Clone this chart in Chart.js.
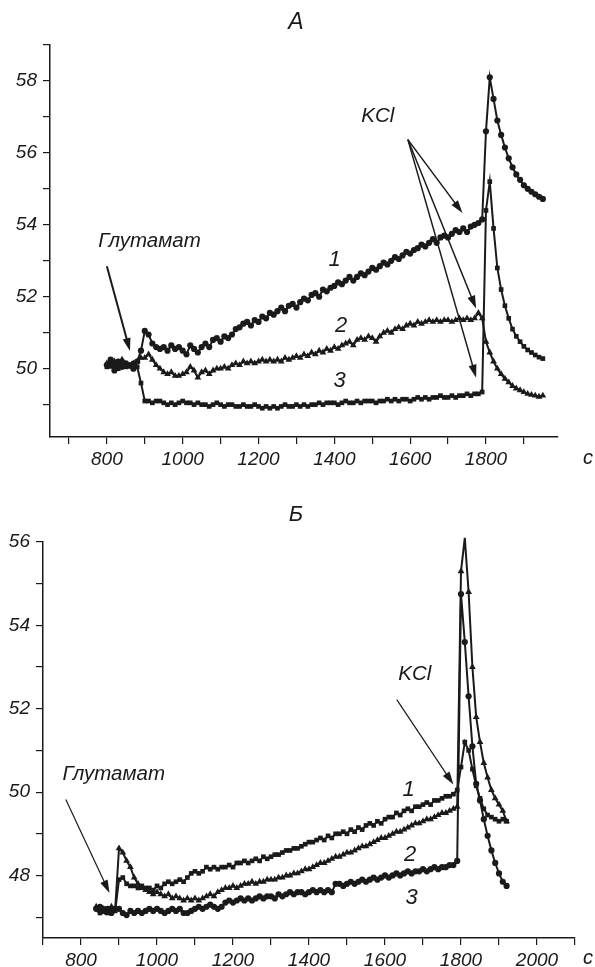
<!DOCTYPE html>
<html>
<head>
<meta charset="utf-8">
<script src="https://cdn.jsdelivr.net/npm/chart.js@4/dist/chart.umd.min.js"></script>
<style>
  body { margin: 0; background: #fff; }
  #wrapA { position: absolute; left: 0; top: 0; width: 595px; height: 480px; }
  #wrapB { position: absolute; left: 0; top: 480px; width: 595px; height: 487px; }
</style>
</head>
<body>
<div id="wrapA"><canvas id="chartA" width="595" height="480"></canvas></div>
<div id="wrapB"><canvas id="chartB" width="595" height="487"></canvas></div>
<script>
// Panel A: sampling every 10 s from 800 to 1950 s
const timesA = Array.from({ length: 116 }, (_, i) => 800 + 10 * i);
// curve 1 (circles)
const a1 = [
  50.1, 50.25, 49.95, 50.2, 50.05, 50.15, 50.1, 50.0, 50.2, 50.5,
  51.05, 50.95, 50.7, 50.6, 50.55, 50.6, 50.5, 50.65, 50.55, 50.6,
  50.5, 50.4, 50.65, 50.55, 50.45, 50.6, 50.7, 50.6, 50.8, 50.85,
  50.75, 50.9, 50.85, 50.95, 51.1, 51.15, 51.25, 51.3, 51.2, 51.35,
  51.3, 51.45, 51.4, 51.55, 51.5, 51.6, 51.7, 51.6, 51.75, 51.8,
  51.7, 51.85, 51.95, 51.9, 52.05, 52.1, 52.0, 52.2, 52.15, 52.25,
  52.3, 52.4, 52.35, 52.45, 52.55, 52.45, 52.55, 52.65, 52.6, 52.7,
  52.8, 52.75, 52.85, 52.95, 52.9, 53.0, 53.1, 53.05, 53.15, 53.25,
  53.2, 53.3, 53.35, 53.45, 53.4, 53.5, 53.6, 53.5, 53.65, 53.7,
  53.65, 53.75, 53.85, 53.8, 53.9, 53.8, 53.95, 54.0, 54.05, 54.15,
  56.6, 58.1, 57.5, 56.9, 56.5, 56.15, 55.85, 55.6, 55.4, 55.25,
  55.1, 55.0, 54.92, 54.85, 54.78, 54.72
];
// curve 2 (triangles)
const a2 = [
  50.15, 50.05, 50.2, 50.1, 50.25, 50.1, 50.05, 50.15, 50.2, 50.3,
  50.3, 50.4, 50.25, 50.1, 50.0, 49.9, 49.85, 49.9, 49.8, 49.8,
  49.85, 49.9, 50.05, 49.95, 49.75, 49.9, 49.95, 49.85, 49.95, 50.0,
  50.0, 50.05, 50.0, 50.1, 50.15, 50.1, 50.2, 50.15, 50.2, 50.15,
  50.2, 50.25, 50.2, 50.25, 50.2, 50.25, 50.2, 50.3, 50.25, 50.3,
  50.35, 50.3, 50.4, 50.35, 50.45, 50.4, 50.5, 50.45, 50.55, 50.5,
  50.6, 50.55, 50.65, 50.7, 50.75, 50.65, 50.8, 50.85, 50.8, 50.9,
  50.85, 50.75, 50.9, 51.0, 51.05, 51.0, 51.1, 51.15, 51.1, 51.2,
  51.25, 51.2, 51.3, 51.25, 51.3, 51.35, 51.3, 51.35, 51.3, 51.35,
  51.35, 51.3, 51.35, 51.4, 51.35, 51.4, 51.35, 51.4, 51.55, 51.4,
  50.75, 50.45, 50.2, 50.0, 49.85, 49.72, 49.62, 49.52, 49.45, 49.4,
  49.35, 49.3, 49.27, 49.25, 49.22, 49.25
];
// curve 3 (squares)
const a3 = [
  50.05, 50.15, 50.1, 50.0, 50.2, 50.05, 50.1, 50.15, 50.05, 49.6,
  49.1, 49.1, 49.05, 49.1, 49.1, 49.05, 49.0, 49.05, 49.0, 49.05,
  49.1, 49.05, 49.05, 49.0, 49.05, 49.0, 49.0, 48.95, 49.0, 49.05,
  49.0, 48.95, 49.0, 49.0, 48.95, 48.95, 49.0, 48.95, 48.95, 49.0,
  48.95, 48.9, 48.95, 48.9, 48.95, 48.9, 48.95, 49.0, 48.95, 48.95,
  49.0, 48.95, 49.0, 48.95, 49.0, 49.0, 49.05, 49.0, 49.05, 49.05,
  49.05, 49.0, 49.05, 49.1, 49.05, 49.05, 49.1, 49.05, 49.1, 49.1,
  49.1, 49.05, 49.1, 49.1, 49.15, 49.1, 49.15, 49.1, 49.15, 49.15,
  49.1, 49.15, 49.2, 49.15, 49.2, 49.15, 49.2, 49.2, 49.25, 49.2,
  49.2, 49.25, 49.2, 49.25, 49.25, 49.3, 49.25, 49.3, 49.3, 49.35,
  54.4, 55.2, 53.9, 52.8, 52.2, 51.75, 51.4, 51.1, 50.9, 50.75,
  50.62, 50.52, 50.45, 50.38, 50.32, 50.28
];

// Panel Б: sampling every 10 s from 840 to 1920 s
const timesB = Array.from({ length: 109 }, (_, i) => 840 + 10 * i);
// curve 1 (squares)
const b1 = [
  47.2, 47.1, 47.2, 47.1, 47.2, 47.15,
  47.9, 47.95, 47.8, 47.75, 47.75, 47.7, 47.75, 47.7, 47.7, 47.65,
  47.75, 47.7, 47.8, 47.85, 47.8, 47.85, 47.9, 47.85, 47.95, 48.05,
  48.1, 48.05, 48.1, 48.2, 48.15, 48.2, 48.15, 48.2, 48.2, 48.25,
  48.2, 48.3, 48.3, 48.35, 48.3, 48.35, 48.4, 48.35, 48.45, 48.4,
  48.45, 48.5, 48.5, 48.55, 48.6, 48.6, 48.65, 48.65, 48.7, 48.75,
  48.8, 48.8, 48.85, 48.9, 48.85, 48.95, 48.9, 49.0, 49.0, 49.05,
  49.0, 49.1, 49.05, 49.15, 49.1, 49.2, 49.25, 49.2, 49.3, 49.25,
  49.35, 49.4, 49.4, 49.5, 49.45, 49.55, 49.6, 49.55, 49.65, 49.65,
  49.7, 49.75, 49.7, 49.8, 49.8, 49.85, 49.9, 49.9, 49.95, 50.05,
  50.6, 51.2, 51.0, 50.55, 50.15, 49.85, 49.6, 49.45, 49.4, 49.35,
  49.3, 49.35, 49.3
];
// curve 2 (triangles)
const b2 = [
  47.25, 47.15, 47.2, 47.1, 47.25, 47.2,
  48.65, 48.55, 48.35, 48.2, 47.95, 47.8, 47.7, 47.65, 47.6, 47.55,
  47.6, 47.55, 47.5, 47.55, 47.45, 47.5, 47.45, 47.4, 47.45, 47.4,
  47.45, 47.4, 47.45, 47.5, 47.55, 47.5, 47.6, 47.65, 47.7, 47.7,
  47.75, 47.7, 47.75, 47.8, 47.8, 47.85, 47.8, 47.85, 47.85, 47.9,
  47.9, 47.9, 47.95, 47.95, 48.0, 48.0, 48.05, 48.05, 48.1, 48.15,
  48.15, 48.2, 48.25, 48.3, 48.3, 48.35, 48.4, 48.45, 48.45, 48.5,
  48.55, 48.55, 48.6, 48.65, 48.7, 48.7, 48.75, 48.8, 48.85, 48.9,
  48.9, 48.95, 49.0, 49.05, 49.05, 49.1, 49.15, 49.2, 49.25, 49.25,
  49.3, 49.35, 49.35, 49.4, 49.45, 49.5, 49.5, 49.55, 49.6, 49.65,
  55.3, 56.1, 54.8, 53.0, 51.8, 51.2, 50.7, 50.35, 50.05, 49.85,
  49.7, 49.55, 49.3
];
// curve 3 (circles)
const b3 = [
  47.2, 47.25, 47.15, 47.2, 47.1, 47.2,
  47.2, 47.1, 47.05, 47.15, 47.1, 47.15, 47.1, 47.15, 47.2, 47.15,
  47.2, 47.15, 47.1, 47.15, 47.2, 47.15, 47.2, 47.1, 47.1, 47.15,
  47.2, 47.25, 47.2, 47.25, 47.3, 47.25, 47.2, 47.25, 47.35, 47.4,
  47.35, 47.4, 47.45, 47.4, 47.45, 47.4, 47.45, 47.5, 47.45, 47.5,
  47.5, 47.45, 47.55, 47.5, 47.55, 47.6, 47.55, 47.6, 47.6, 47.55,
  47.6, 47.65, 47.6, 47.65, 47.6, 47.65, 47.6, 47.8, 47.8, 47.75,
  47.8, 47.85, 47.8, 47.85, 47.9, 47.85, 47.9, 47.95, 47.9, 47.95,
  48.0, 47.95, 48.0, 48.05, 48.0, 48.05, 48.1, 48.05, 48.1, 48.1,
  48.15, 48.1, 48.15, 48.2, 48.15, 48.2, 48.2, 48.25, 48.25, 48.35,
  54.75, 53.6, 52.3, 51.1, 50.2, 49.8, 49.35, 48.95, 48.6, 48.3,
  48.05, 47.85, 47.75
];

const INK = '#1a1a1a';
const FONT = '"Liberation Sans", Arial, sans-serif';

function pts(times, vals) {
  return times.map((t, i) => ({ x: t, y: vals[i] }));
}

const markerSize = { circle: 3.1, rect: 3.3, triangle: 3.9 };

function series(times, vals, style) {
  return {
    data: pts(times, vals),
    borderColor: INK,
    backgroundColor: INK,
    borderWidth: 2,
    pointStyle: style,
    pointRadius: markerSize[style],
    pointBorderWidth: 0,
    pointBackgroundColor: INK,
    tension: 0,
    clip: false
  };
}

function drawArrow(ctx, x1, y1, x2, y2, w) {
  const ang = Math.atan2(y2 - y1, x2 - x1);
  const len = 13, half = 4;
  ctx.lineWidth = w;
  ctx.beginPath();
  ctx.moveTo(x1, y1);
  ctx.lineTo(x2 - Math.cos(ang) * len * 0.8, y2 - Math.sin(ang) * len * 0.8);
  ctx.stroke();
  ctx.beginPath();
  ctx.moveTo(x2, y2);
  ctx.lineTo(x2 - Math.cos(ang) * len - Math.sin(ang) * half, y2 - Math.sin(ang) * len + Math.cos(ang) * half);
  ctx.lineTo(x2 - Math.cos(ang) * len + Math.sin(ang) * half, y2 - Math.sin(ang) * len - Math.cos(ang) * half);
  ctx.closePath();
  ctx.fill();
}

// labels, arrows and panel letters
const annotate = {
  id: 'annotate',
  afterDraw(chart, args, opts) {
    const { ctx, scales: { x, y } } = chart;
    ctx.save();
    ctx.fillStyle = INK;
    ctx.strokeStyle = INK;
    ctx.textBaseline = 'middle';
    opts.texts.forEach(t => {
      ctx.font = 'italic ' + t.size + 'px ' + FONT;
      ctx.textAlign = t.align || 'center';
      const px = t.px !== undefined ? t.px : x.getPixelForValue(t.x);
      const py = t.py !== undefined ? t.py : y.getPixelForValue(t.y);
      ctx.fillText(t.t, px, py);
    });
    opts.arrows.forEach(a => {
      drawArrow(ctx, x.getPixelForValue(a[0]), y.getPixelForValue(a[1]),
        x.getPixelForValue(a[2]), y.getPixelForValue(a[3]), a[4]);
    });
    ctx.restore();
  }
};

function axisOpts(min, max, step, labelEvery, fit, tickPad) {
  return {
    type: 'linear',
    min: min,
    max: max,
    afterFit: fit,
    border: { display: true, color: INK, width: 1.5 },
    grid: { drawOnChartArea: false, drawTicks: true, tickLength: 7, color: INK, lineWidth: 1.2 },
    ticks: {
      stepSize: step,
      includeBounds: false,
      autoSkip: false,
      maxRotation: 0,
      padding: tickPad,
      color: INK,
      font: { family: FONT, size: 19, style: 'italic' },
      callback: v => (v % labelEvery === 0 ? String(v) : '')
    }
  };
}

function makeChart(id, times, s1, s2, s3, styles, xr, yr, pad, yw, xh, notes) {
  return new Chart(document.getElementById(id), {
    type: 'line',
    data: {
      datasets: [
        series(times, s1, styles[0]),
        series(times, s2, styles[1]),
        series(times, s3, styles[2])
      ]
    },
    options: {
      responsive: false,
      animation: false,
      devicePixelRatio: 1,
      layout: { padding: pad },
      plugins: { legend: { display: false }, tooltip: { enabled: false }, annotate: notes },
      scales: {
        x: axisOpts(xr[0], xr[1], 100, 200, s => { s.height = xh; }, 4),
        y: axisOpts(yr[0], yr[1], 1, 2, s => { s.width = yw; }, 6)
      }
    },
    plugins: [annotate]
  });
}

makeChart('chartA', timesA, a1, a2, a3, ['circle', 'triangle', 'rect'],
  [650, 1990], [48.1, 59], { top: 45, right: 37, left: 0, bottom: 0 }, 50, 43, {
    texts: [
      { t: 'А', px: 296, py: 23, size: 23 },
      { t: 'с', px: 588, py: 458, size: 20 },
      { t: 'Глутамат', x: 777, y: 53.54, size: 20.5, align: 'left' },
      { t: 'KCl', x: 1471, y: 57.02, size: 20.5, align: 'left' },
      { t: '1', x: 1401, y: 53.03, size: 22 },
      { t: '2', x: 1418, y: 51.18, size: 22 },
      { t: '3', x: 1414, y: 49.66, size: 22 }
    ],
    arrows: [
      [800, 52.85, 861, 50.49, 2],
      [1594, 56.37, 1738, 54.33, 1.5],
      [1594, 56.37, 1774, 51.67, 1.5],
      [1594, 56.37, 1774, 49.75, 1.5]
    ]
  });

makeChart('chartB', timesB, b1, b2, b3, ['rect', 'triangle', 'circle'],
  [700, 2100], [46.5, 56], { top: 62, right: 20, left: 0, bottom: 0 }, 43, 29, {
    texts: [
      { t: 'Б', px: 296, py: 35, size: 22 },
      { t: 'с', px: 588, py: 478, size: 20 },
      { t: 'Глутамат', x: 751, y: 50.42, size: 20.5, align: 'left' },
      { t: 'KCl', x: 1635, y: 52.82, size: 20.5, align: 'left' },
      { t: '1', x: 1662, y: 50.06, size: 22 },
      { t: '2', x: 1666, y: 48.5, size: 22 },
      { t: '3', x: 1670, y: 47.47, size: 22 }
    ],
    arrows: [
      [760, 49.82, 875, 47.58, 1.2],
      [1631, 52.22, 1780, 50.18, 1.2]
    ]
  });
</script>
</body>
</html>
